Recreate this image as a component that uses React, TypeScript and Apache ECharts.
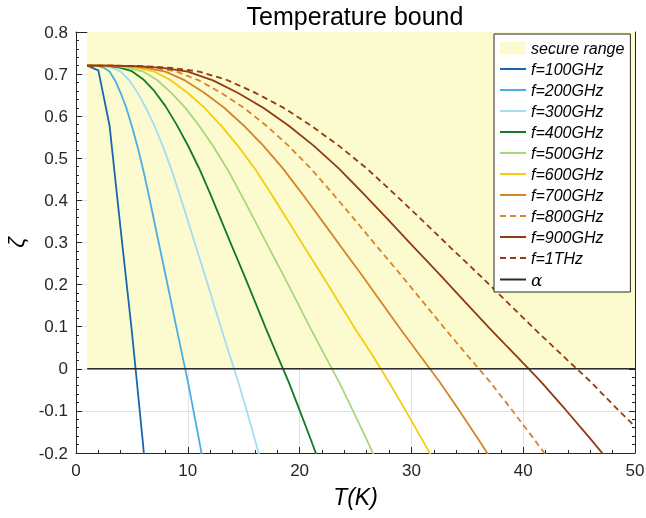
import React, { useEffect, useRef } from 'react';
import * as echarts from 'echarts';

// Temperature T (K) and zeta values per frequency
const T100 = [1, 2, 3, 4, 5, 6, 7];
const Z100 = [0.72, 0.709, 0.578, 0.33, 0.088, -0.18, -0.48];

const T200 = [1, 1.5, 2, 2.5, 3, 3.5, 4, 4.5, 5, 5.5, 6, 6.5, 7, 7.5, 8, 8.5, 9, 9.5, 10, 10.5, 11, 11.5];
const Z200 = [0.72, 0.72, 0.719, 0.715, 0.706, 0.685, 0.655, 0.62, 0.576, 0.528, 0.474, 0.414, 0.35, 0.287, 0.224, 0.16, 0.096, 0.033, -0.03, -0.098, -0.168, -0.24];

const T300 = [1, 1.75, 2.5, 3.25, 4, 4.75, 5.5, 6.25, 7, 7.75, 8.5, 9.25, 10, 10.75, 11.5, 12.25, 13, 13.75, 14.5, 15.25, 16, 16.75];
const Z300 = [0.72, 0.72, 0.719, 0.715, 0.706, 0.686, 0.656, 0.62, 0.578, 0.53, 0.476, 0.415, 0.352, 0.288, 0.225, 0.16, 0.095, 0.032, -0.03, -0.098, -0.168, -0.24];

const T400 = [1, 2, 3, 4, 5, 6, 7, 8, 9, 10, 11, 12, 13, 14, 15, 16, 17, 18, 19, 20, 21, 22];
const Z400 = [0.72, 0.72, 0.719, 0.715, 0.707, 0.688, 0.66, 0.624, 0.58, 0.531, 0.477, 0.416, 0.352, 0.288, 0.225, 0.16, 0.095, 0.032, -0.03, -0.098, -0.168, -0.24];

const T500 = [1, 2.25, 3.5, 4.75, 6, 7.25, 8.5, 9.75, 11, 12.25, 13.5, 14.75, 16, 17.25, 18.5, 19.75, 21, 22.25, 23.5, 24.75, 26, 27.25];
const Z500 = [0.72, 0.72, 0.719, 0.715, 0.706, 0.686, 0.656, 0.621, 0.578, 0.53, 0.476, 0.415, 0.352, 0.288, 0.225, 0.16, 0.095, 0.032, -0.03, -0.098, -0.168, -0.24];

const T600 = [1, 2.5, 4, 5.5, 7, 8.5, 10, 11.5, 13, 14.5, 16, 17.5, 19, 20.5, 22, 23.5, 25, 26.5, 28, 29.5, 31, 32.5];
const Z600 = [0.72, 0.72, 0.719, 0.715, 0.706, 0.685, 0.655, 0.62, 0.577, 0.529, 0.475, 0.414, 0.35, 0.286, 0.223, 0.158, 0.094, 0.033, -0.032, -0.1, -0.17, -0.24];

const T700 = [1, 2.75, 4.5, 6.25, 8, 9.75, 11.5, 13.25, 15, 16.75, 18.5, 20.25, 22, 23.75, 25.5, 27.25, 29, 30.75, 32.5, 34.25, 36, 37.75];
const Z700 = [0.72, 0.72, 0.719, 0.715, 0.706, 0.685, 0.655, 0.62, 0.578, 0.53, 0.476, 0.415, 0.352, 0.288, 0.225, 0.16, 0.095, 0.032, -0.03, -0.098, -0.168, -0.24];

const T800 = [1, 3, 5, 7, 9, 11, 13, 15, 17, 19, 21, 23, 25, 27, 29, 31, 33, 35, 37, 39, 41, 43];
const Z800 = [0.72, 0.72, 0.719, 0.715, 0.706, 0.685, 0.655, 0.62, 0.578, 0.53, 0.476, 0.415, 0.352, 0.288, 0.225, 0.16, 0.095, 0.032, -0.03, -0.098, -0.168, -0.24];

const T900 = [1, 3.25, 5.5, 7.75, 10, 12.25, 14.5, 16.75, 19, 21.25, 23.5, 25.75, 28, 30.25, 32.5, 34.75, 37, 39.25, 41.5, 43.75, 46, 48.25];
const Z900 = [0.72, 0.72, 0.719, 0.715, 0.706, 0.685, 0.655, 0.62, 0.578, 0.53, 0.476, 0.415, 0.352, 0.288, 0.225, 0.16, 0.096, 0.034, -0.028, -0.096, -0.166, -0.238];

const T1T = [1, 3.5, 6, 8.5, 11, 13.5, 16, 18.5, 21, 23.5, 26, 28.5, 31, 33.5, 36, 38.5, 41, 43.5, 46, 48.5, 50];
const Z1T = [0.72, 0.72, 0.719, 0.715, 0.706, 0.686, 0.656, 0.621, 0.578, 0.53, 0.476, 0.415, 0.352, 0.288, 0.225, 0.16, 0.095, 0.032, -0.03, -0.098, -0.137];

const T_ALPHA = [1, 50];
const Z_ALPHA = [0, 0];

const SECURE_X = [1, 50];
const SECURE_Y = [0, 0.8];

const NAMES = ['f=100GHz', 'f=200GHz', 'f=300GHz', 'f=400GHz', 'f=500GHz', 'f=600GHz', 'f=700GHz', 'f=800GHz', 'f=900GHz', 'f=1THz'];
const TS = [T100, T200, T300, T400, T500, T600, T700, T800, T900, T1T];
const ZS = [Z100, Z200, Z300, Z400, Z500, Z600, Z700, Z800, Z900, Z1T];
const COLORS = ['#1766b0', '#4aaee6', '#a6dbf4', '#127a24', '#a7d77b', '#f4cd0c', '#d6842a', '#d6842a', '#933a12', '#933a12'];
const DASHED = [false, false, false, false, false, false, false, true, false, true];

const FONT = 'Liberation Sans, Arial, sans-serif';
const AX = '#262626';
const YELLOW = '#fcfbd0';

export default function App() {
  const ref = useRef<HTMLDivElement>(null);
  useEffect(() => {
    const chart = echarts.init(ref.current!, null, { renderer: 'svg' });
    const fSeries = NAMES.map((name, k) => ({
      name,
      type: 'line',
      xAxisIndex: 0,
      yAxisIndex: 0,
      symbol: 'none',
      data: TS[k].map((t, i) => [t, ZS[k][i]]),
      lineStyle: { color: COLORS[k], width: 1.8, type: DASHED[k] ? [6, 4] : 'solid' },
      itemStyle: { color: COLORS[k] },
      z: 3,
    }));
    const option: any = {
      animation: false,
      grid: { left: 76, right: 11, top: 32, bottom: 65, containLabel: false, outerBoundsMode: 'none' },
      graphic: [
        {
          type: 'text',
          x: 355,
          y: 3,
          style: {
            text: 'Temperature bound',
            textAlign: 'center',
            textVerticalAlign: 'top',
            fontSize: 25,
            fontFamily: FONT,
            fill: '#000',
          },
        },
      ],
      legend: {
        orient: 'vertical',
        left: 494,
        top: 34,
        padding: [6, 6, 4, 5],
        itemWidth: 26,
        itemHeight: 13,
        itemGap: 5,
        itemTextGap: 5,
        backgroundColor: '#ffffff',
        borderColor: AX,
        borderWidth: 1,
        borderRadius: 0,
        itemStyle: { opacity: 0 },
        textStyle: {
          fontSize: 16,
          fontStyle: 'italic',
          fontFamily: FONT,
          color: '#000',
          rich: { a: { fontSize: 17, fontStyle: 'italic', fontFamily: 'DejaVu Serif, serif', color: '#000' } },
        },
        formatter: (n: string) => (n === 'α' ? '{a|α}' : n),
        data: [
          { name: 'secure range', icon: 'rect', itemStyle: { color: YELLOW, opacity: 1 } },
          ...NAMES.map((n) => ({ name: n })),
          { name: 'α' },
        ],
      },
      xAxis: [
        {
          type: 'value',
          min: 0,
          max: 50,
          interval: 10,
          position: 'bottom',
          name: 'T(K)',
          nameLocation: 'middle',
          nameGap: 32,
          nameTextStyle: { fontSize: 23, fontStyle: 'italic', fontFamily: FONT, color: '#000' },
          axisLine: { show: true, onZero: false, lineStyle: { color: AX, width: 1 } },
          axisTick: { show: true, inside: true, length: 6, lineStyle: { color: AX } },
          minorTick: { show: true, splitNumber: 5, length: 3, lineStyle: { color: AX } },
          splitLine: { show: true, lineStyle: { color: '#e2e2e2', width: 1 } },
          axisLabel: { fontSize: 17, fontFamily: FONT, color: AX, margin: 9 },
        },
        {
          type: 'value',
          min: 0,
          max: 50,
          interval: 10,
          position: 'top',
          axisLine: { show: true, onZero: false, lineStyle: { color: AX, width: 1 } },
          axisTick: { show: true, inside: true, length: 6, lineStyle: { color: AX } },
          minorTick: { show: true, splitNumber: 5, length: 3, lineStyle: { color: AX } },
          splitLine: { show: false },
          axisLabel: { show: false },
        },
      ],
      yAxis: [
        {
          type: 'value',
          min: -0.2,
          max: 0.8,
          interval: 0.1,
          position: 'left',
          name: 'ζ',
          nameLocation: 'middle',
          nameRotate: 90,
          nameGap: 42,
          nameTextStyle: { fontSize: 23, fontStyle: 'italic', fontFamily: FONT, color: '#000' },
          axisLine: { show: true, onZero: false, lineStyle: { color: AX, width: 1 } },
          axisTick: { show: true, inside: true, length: 6, lineStyle: { color: AX } },
          minorTick: { show: true, splitNumber: 5, length: 3, lineStyle: { color: AX } },
          splitLine: { show: true, lineStyle: { color: '#e2e2e2', width: 1 } },
          axisLabel: {
            fontSize: 17,
            fontFamily: FONT,
            color: AX,
            margin: 8,
            formatter: (v: number) => String(Number(v.toFixed(1))),
          },
        },
        {
          type: 'value',
          min: -0.2,
          max: 0.8,
          interval: 0.1,
          position: 'right',
          axisLine: { show: true, onZero: false, lineStyle: { color: AX, width: 1 } },
          axisTick: { show: true, inside: true, length: 6, lineStyle: { color: AX } },
          minorTick: { show: true, splitNumber: 5, length: 3, lineStyle: { color: AX } },
          splitLine: { show: false },
          axisLabel: { show: false },
        },
      ],
      series: [
        {
          name: 'secure range',
          type: 'line',
          xAxisIndex: 0,
          yAxisIndex: 0,
          symbol: 'none',
          data: [],
          itemStyle: { color: YELLOW },
          lineStyle: { opacity: 0 },
          z: 1,
          markArea: {
            silent: true,
            itemStyle: { color: YELLOW, opacity: 1 },
            data: [
              [
                { xAxis: SECURE_X[0], yAxis: SECURE_Y[0] },
                { xAxis: SECURE_X[1], yAxis: SECURE_Y[1] },
              ],
            ],
          },
        },
        ...fSeries,
        {
          name: 'α',
          type: 'line',
          xAxisIndex: 0,
          yAxisIndex: 0,
          symbol: 'none',
          data: T_ALPHA.map((t, i) => [t, Z_ALPHA[i]]),
          lineStyle: { color: '#2a2a2a', width: 1.5 },
          itemStyle: { color: '#555555' },
          z: 4,
        },
      ],
    };
    chart.setOption(option);
    return () => chart.dispose();
  }, []);
  return <div ref={ref} style={{ position: 'fixed', left: 0, top: 0, width: 646, height: 518 }} />;
}
